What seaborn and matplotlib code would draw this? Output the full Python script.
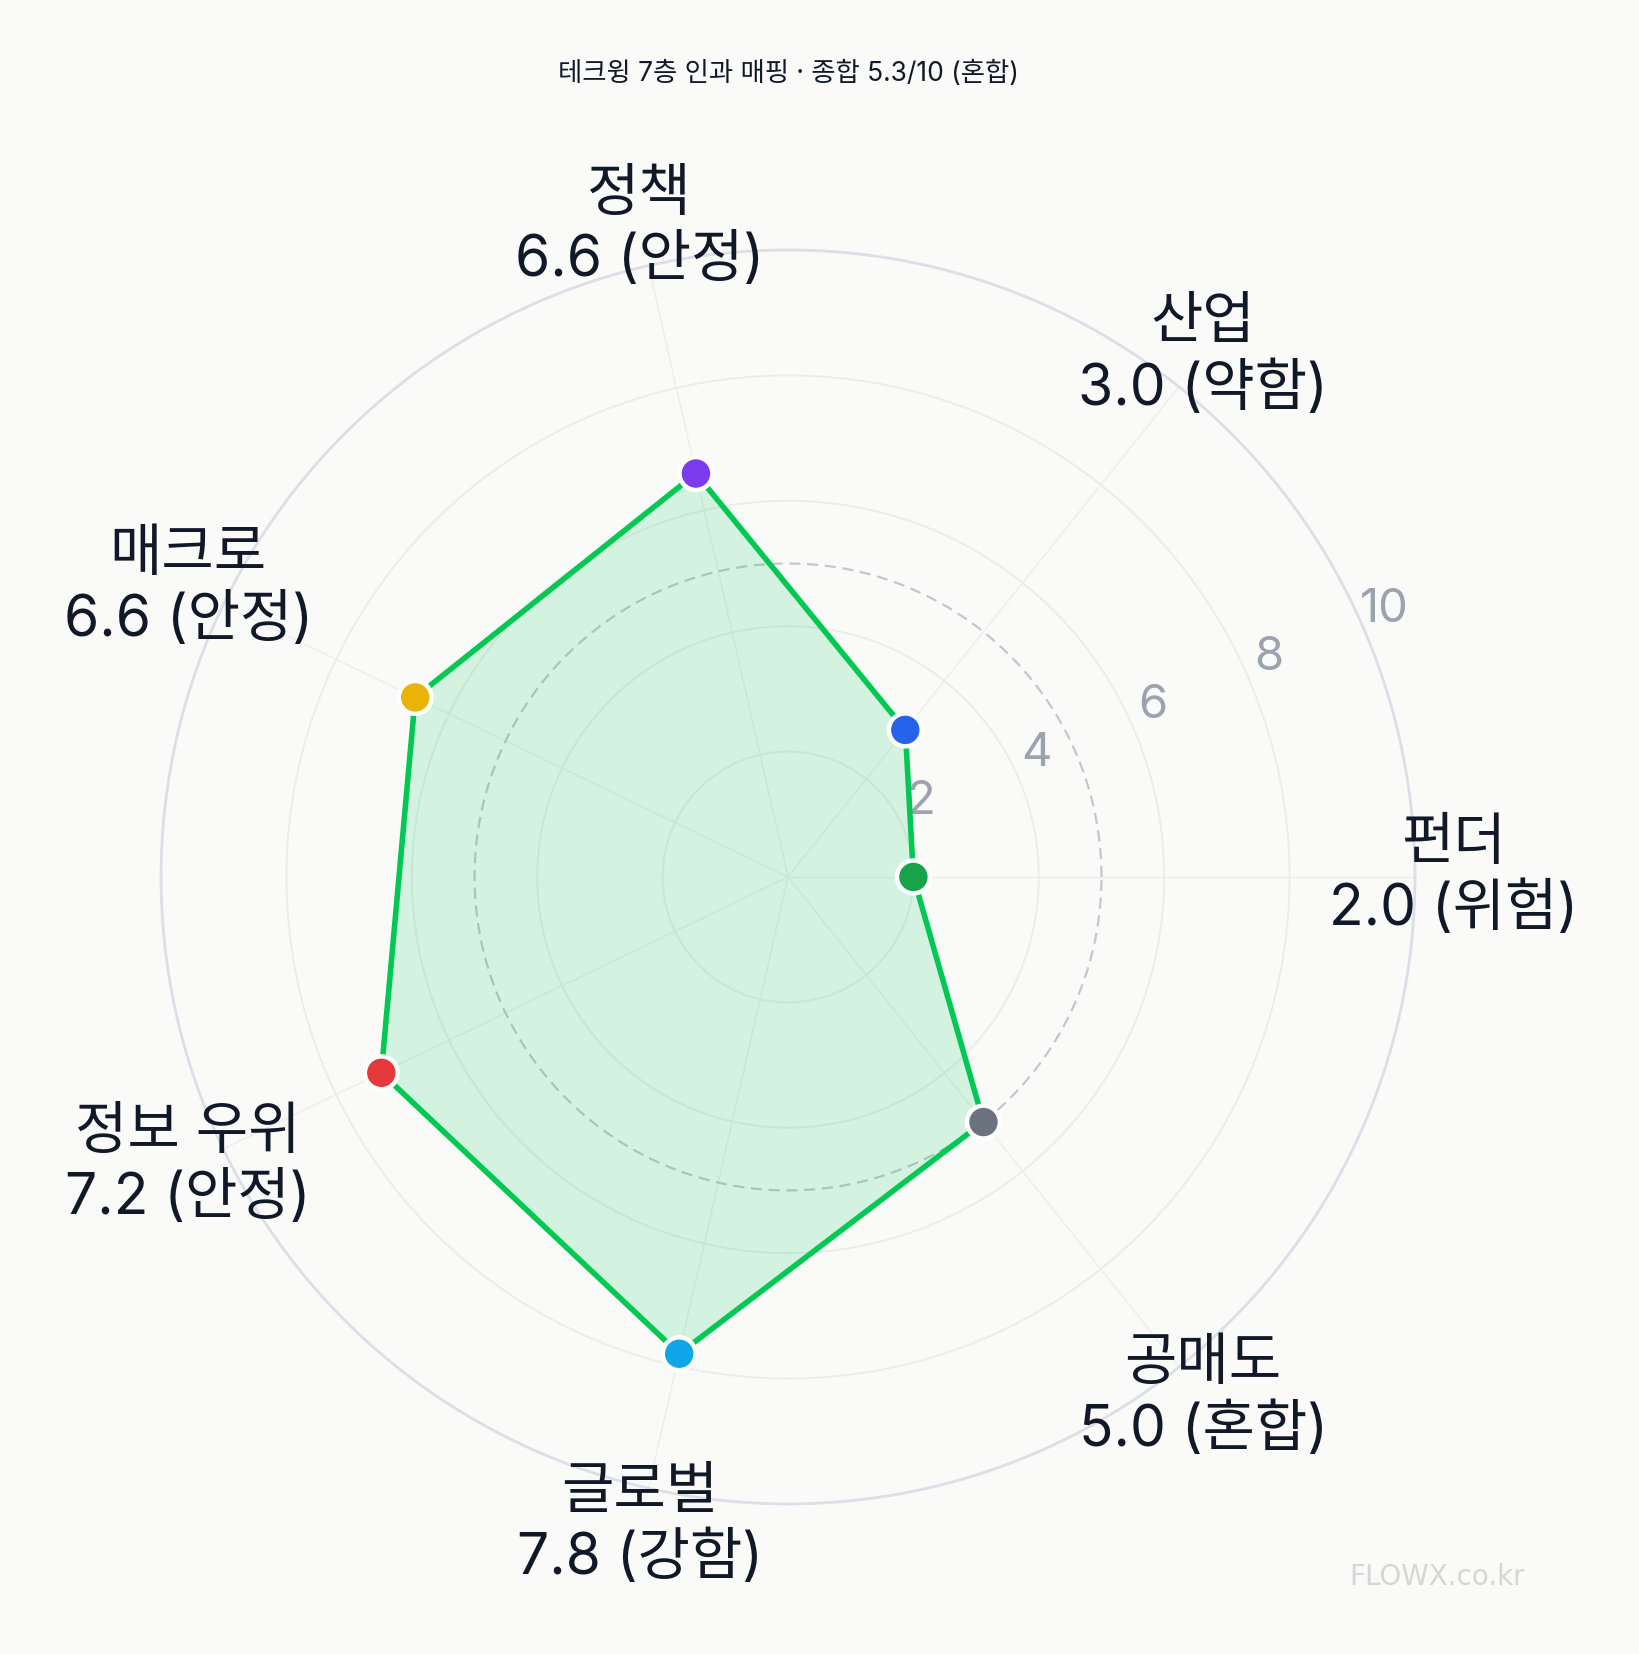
import numpy as np
import pandas as pd
import seaborn as sns
import matplotlib.pyplot as plt
from matplotlib.transforms import offset_copy


# chart data
categories = ['펀더', '산업', '정책', '매크로', '정보 우위', '글로벌', '공매도']
scores = [2.0, 3.0, 6.6, 6.6, 7.2, 7.8, 5.0]
grades = ['위험', '약함', '안정', '안정', '안정', '강함', '혼합']
point_colors = ['#16a34a', '#2563eb', '#7c3aed', '#eab308', '#e5383b', '#0ea5e9', '#6b7280']
r_ticks = [2, 4, 6, 8, 10]
ref_level = 5.0
overall = 5.3
overall_grade = '혼합'
company = '테크윙'

BG = '#fafaf9'
LINE = '#00c853'
TEXT = '#111827'
TICK = '#9ca3af'

sns.set_style('white')
plt.rcParams['font.family'] = ['Inter', 'Noto Sans CJK KR', 'DejaVu Sans']

angles = np.linspace(0, 2 * np.pi, len(categories), endpoint=False)
df = pd.DataFrame({'theta': angles, 'score': scores, 'layer': categories})
closed = pd.concat([df, df.iloc[:1]], ignore_index=True)

fig = plt.figure(figsize=(16.4, 16.54), dpi=100, facecolor=BG)
ax = fig.add_axes([0.0982, 0.0907, 0.7646, 0.7582], projection='polar')
ax.set_facecolor(BG)
ax.set_ylim(0, 10)

# grid: spokes + rings
ax.set_xticks(angles)
ax.set_xticklabels([])
ax.set_yticks(r_ticks)
ax.set_yticklabels([])
ax.xaxis.grid(True, color='#ededed', linewidth=1.0)
ax.yaxis.grid(True, color='#ececec', linewidth=1.4)
ax.spines['polar'].set_color('#dcdfe6')
ax.spines['polar'].set_linewidth(2.0)
ax.tick_params(pad=0, length=0)

# reference ring
ring = np.linspace(0, 2 * np.pi, 400)
ax.plot(ring, np.full_like(ring, ref_level), color='#c4c7cc', lw=1.6,
        ls=(0, (5, 3)), zorder=2)

# radial tick labels
tick_tr = offset_copy(ax.transData, fig=fig, x=17, y=27, units='dots')
for v in r_ticks:
    ax.text(np.deg2rad(22.5), v, str(v), transform=tick_tr, ha='center', va='center',
            fontsize=34, color=TICK, zorder=1)

# data polygon
ax.fill(closed['theta'], closed['score'], color=LINE, alpha=0.15, lw=0, zorder=3)
sns.lineplot(data=closed, x='theta', y='score', sort=False, estimator=None,
             color=LINE, lw=4.0, ax=ax, zorder=4)
sns.scatterplot(data=df, x='theta', y='score', hue='layer', palette=point_colors,
                s=560, edgecolor='white', linewidth=3.2, legend=False, ax=ax, zorder=5)
ax.set_xlabel('')
ax.set_ylabel('')

# axis labels
for ang, cat, sc, gr in zip(angles, categories, scores, grades):
    ax.text(ang, 10.62, f'{cat}\n{sc:.1f} ({gr})', ha='center', va='center',
            fontsize=41, color=TEXT, linespacing=1.25, zorder=6)

fig.text(0.4805, 1 - 74 / 1654, f'{company} 7층 인과 매핑 · 종합 {overall}/10 ({overall_grade})',
         ha='center', va='center', fontsize=19, color=TEXT)
fig.text(1437 / 1640, 1 - 1577 / 1654, 'FLOWX.co.kr', ha='center', va='center',
         fontsize=20, color='#d6d6d6', family='DejaVu Sans')

fig.savefig('out.png', dpi=100, facecolor=BG)
